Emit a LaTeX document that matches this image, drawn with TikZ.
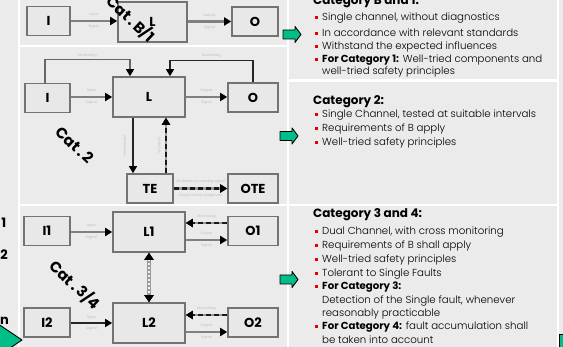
\documentclass[tikz,border=0pt]{standalone}
\usepackage{fontspec}
\setmainfont{Poppins}
\newfontfamily\leger{Poppins Light}
\usetikzlibrary{arrows.meta, positioning}

\definecolor{fond}{RGB}{235,235,235}
\definecolor{vert}{RGB}{0,190,135}
\definecolor{puceRouge}{RGB}{230,0,0}

\begin{document}
\begin{tikzpicture}[
    x=1pt, y=-1pt,
    % Styles des blocs
    bloc/.style={draw=black!55, line width=1.6pt, fill=black!9, inner sep=0pt, font=\fontsize{13}{13}\selectfont\bfseries},
    petit/.style={bloc, minimum width=46pt, minimum height=29pt},
    grand/.style={bloc, minimum width=72pt, minimum height=40pt},
    % Styles des liaisons
    signal/.style={draw=black!50, line width=2.2pt, -{Triangle[length=7pt, width=8pt, color=black]}},
    signalNoir/.style={draw=black!85, line width=1.3pt, -{Triangle[length=7pt, width=8pt, color=black]}},
    test/.style={preaction={draw=black!40, line width=2.2pt}, draw=black!90, line width=2.2pt, dash pattern=on 5pt off 3pt, -{Triangle[length=7pt, width=8pt, color=black]}},
    croise/.style={preaction={draw=black!40, line width=4pt}, draw=white, line width=1.6pt, dash pattern=on 2pt off 2pt, {Triangle[length=7pt, width=9pt, color=black]}-{Triangle[length=7pt, width=9pt, color=black]}},
    etiq/.style={font=\leger\fontsize{3.5}{4}\selectfont, text=black!30, inner sep=1pt},
    cat/.style={font=\fontsize{15}{15}\selectfont\bfseries, rotate=-43, inner sep=0pt},
    % Styles du texte a droite
    titre/.style={anchor=base west, font=\fontsize{12}{12}\selectfont\bfseries, inner sep=0pt},
    ligne/.style={anchor=base west, font=\leger\fontsize{10.2}{10}\selectfont, inner sep=0pt},
    puce/.style={fill=puceRouge, minimum size=3pt, inner sep=0pt},
    canal/.style={anchor=base east, font=\fontsize{13}{13}\selectfont\bfseries, inner sep=0pt},
    flecheVerte/.style={fill=vert, draw=black, line width=0.9pt, line join=round},
]

\useasboundingbox (0,0) rectangle (563,347);
\clip (0,0) rectangle (563,347);

% Fonds
\fill[white] (0,0) rectangle (563,347);
\fill[fond] (0,0) rectangle (18,347);
\fill[fond] (20,0) rectangle (286.5,45);
\fill[fond] (20,47) rectangle (286.5,204);
\fill[fond] (20,206.5) rectangle (286.5,347);
\fill[fond] (288.5,0) rectangle (556.5,79.5);
\fill[fond] (288.5,82.5) rectangle (556.5,204);
\fill[fond] (288.5,206.5) rectangle (556.5,347);
\fill[fond] (558.5,0) rectangle (563,347);

% Categorie B et 1
\node[petit, minimum width=43pt] (Ih) at (48.5,21) {I};
\node[grand, minimum width=69pt] (Lh) at (152.5,22) {L};
\node[petit] (Oh) at (255,21.5) {O};

\draw[signal] (Ih.east) -- (Ih.east -| Lh.west) node[etiq, midway, above=2pt] {Input} node[etiq, midway, below=2pt] {Signal};
\draw[signal] (Lh.east |- Oh) -- (Oh.west) node[etiq, midway, above=2pt] {Output} node[etiq, midway, below=2pt] {Signal};

\node[cat] (catB) at (131,19) {Cat\,.\,B/1};

% Categorie 2
\node[petit, minimum width=45pt] (Im) at (47.5,98) {I};
\node[grand] (Lm) at (149,97) {L};
\node[petit, minimum width=50pt] (Om) at (253,97.5) {O};
\node[petit] (TE) at (150,188.5) {TE};
\node[petit, minimum width=50pt] (OTE) at (253,188.5) {OTE};

\draw[signal] (Im.east |- Lm) -- (Lm.west) node[etiq, midway, above=2pt] {Input} node[etiq, midway, below=2pt] {Signal};
\draw[signal] (Lm.east) -- (Lm.east -| Om.west) node[etiq, midway, above=2pt] {Output} node[etiq, midway, below=2pt] {Signal};

\draw[signalNoir, draw=black!60] ([xshift=-2.5pt]Im.north) -- ++(0,-23) -| node[etiq, pos=0.25, above=1pt] {Monitoring} ([xshift=-19pt]Lm.north);
\draw[signalNoir] (Om.north) -- ++(0,-22) -| node[etiq, pos=0.25, above=1pt] {Monitoring} ([xshift=21pt]Lm.north);

\draw[signalNoir] ([xshift=-16pt]Lm.south) -- ([xshift=-16pt]Lm.south |- TE.north);
\draw[test] ([xshift=16pt]TE.north) -- ([xshift=16pt]TE.north |- Lm.south);
\node[etiq, rotate=90] (etDemande) at (125,146) {Test request};
\node[etiq, rotate=90] (etReponse) at (159,146) {Test result};

\draw[test] (TE) -- (OTE) node[etiq, midway, above=3pt] {Shutdown or warning signal} node[etiq, midway, below=3pt] {Output of test equipment};

\node[cat] (cat2) at (75,145) {Cat\,.\,2};

% Categorie 3 et 4
\node[petit] (I1) at (47,231) {I1};
\node[grand] (L1) at (149,232) {L1};
\node[petit, minimum width=50pt] (O1) at (253,231) {O1};
\node[petit] (I2) at (47,322.5) {I2};
\node[grand] (L2) at (149,323) {L2};
\node[petit, minimum width=50pt] (O2) at (253,322.5) {O2};

\draw[signal] (I1.east |- L1) -- (L1.west) node[etiq, midway, above=2pt] {Input} node[etiq, midway, below=2pt] {Signal};
\draw[test] ([yshift=8pt]O1.west) -- ([yshift=8pt]O1.west -| L1.east) node[etiq, midway, above=2pt] {Monitoring};
\draw[signal] ([yshift=-8pt]L1.east) -- ([yshift=-8pt]L1.east -| O1.west) node[etiq, midway, above=2pt] {Output} node[etiq, midway, below=2pt] {Signal};

\draw[croise] (L1) -- (L2);
\node[etiq, rotate=90] (etCroise) at (150,278) {Cross monitoring};

\draw[signalNoir] (I2.east |- L2) -- (L2.west) node[etiq, midway, above=2pt] {Input} node[etiq, midway, below=2pt] {Signal};
\draw[test] ([yshift=7.5pt]O2.west) -- ([yshift=7.5pt]O2.west -| L2.east) node[etiq, midway, above=2pt] {Monitoring};
\draw[signal] ([yshift=-9pt]L2.east) -- ([yshift=-9pt]L2.east -| O2.west) node[etiq, midway, above=2pt] {Output} node[etiq, midway, below=2pt] {Signal};

\node[cat] (cat34) at (75,285) {Cat\,.\,3/4};

% Canaux a gauche
\node[canal] (canal1) at (6.5,228) {1};
\node[canal] (canal2) at (8,260) {2};
\node[canal] (canaln) at (9,325) {n};
\draw[flecheVerte] (-30,305) -- (22,340) -- (-30,375) -- cycle;

% Fleches vertes
\foreach \xa/\yc in {283/34.5, 280/136, 280/279.5}
  \draw[flecheVerte] (\xa,\yc) ++(0,-4.5) -- ++(12,0) -- ++(0,-3.5) -- ++(6,8) -- ++(-6,8) -- ++(0,-3.5) -- ++(-12,0) -- cycle;
\draw[flecheVerte] (559,334) rectangle (575,360);

% Texte : categorie B et 1
\node[titre] (titreB) at (313,5) {Category B and 1:};
\node[ligne] (b1) at (322,20.5) {Single channel, without diagnostics};
\node[ligne] (b2) at (322,36.5) {In accordance with relevant standards};
\node[ligne] (b3) at (322,50) {Withstand the expected influences};
\node[ligne] (b4) at (322,62.5) {{\normalfont\bfseries For Category 1:} Well-tried components and};
\node[ligne] (b5) at (322,75) {well-tried safety principles};
\foreach \y in {20.5,36.5,50,62.5}
  \node[puce] (puceB\y) at (316.5,\y-3) {};

% Texte : categorie 2
\node[titre] (titre2) at (313,104.5) {Category 2:};
\node[ligne] (c1) at (322,118) {Single Channel, tested at suitable intervals};
\node[ligne] (c2) at (322,132) {Requirements of B apply};
\node[ligne] (c3) at (322,146) {Well-tried safety principles};
\foreach \y in {118,132,146}
  \node[puce] (puceC\y) at (316.5,\y-3) {};

% Texte : categorie 3 et 4
\node[titre] (titre34) at (313,217.5) {Category 3 and 4:};
\node[ligne] (d1) at (322,235) {Dual Channel, with cross monitoring};
\node[ligne] (d2) at (322,249) {Requirements of B shall apply};
\node[ligne] (d3) at (322,263) {Well-tried safety principles};
\node[ligne] (d4) at (322,276.5) {Tolerant to Single Faults};
\node[ligne] (d5) at (322,290) {{\normalfont\bfseries For Category 3:}};
\node[ligne] (d6) at (322,303.5) {Detection of the Single fault, whenever};
\node[ligne] (d7) at (322,317) {reasonably practicable};
\node[ligne] (d8) at (322,330) {{\normalfont\bfseries For Category 4:} fault accumulation shall};
\node[ligne] (d9) at (322,343.5) {be taken into account};
\foreach \y in {235,249,263,276.5,290,330}
  \node[puce] (puceD\y) at (316.5,\y-3) {};

\end{tikzpicture}
\end{document}
